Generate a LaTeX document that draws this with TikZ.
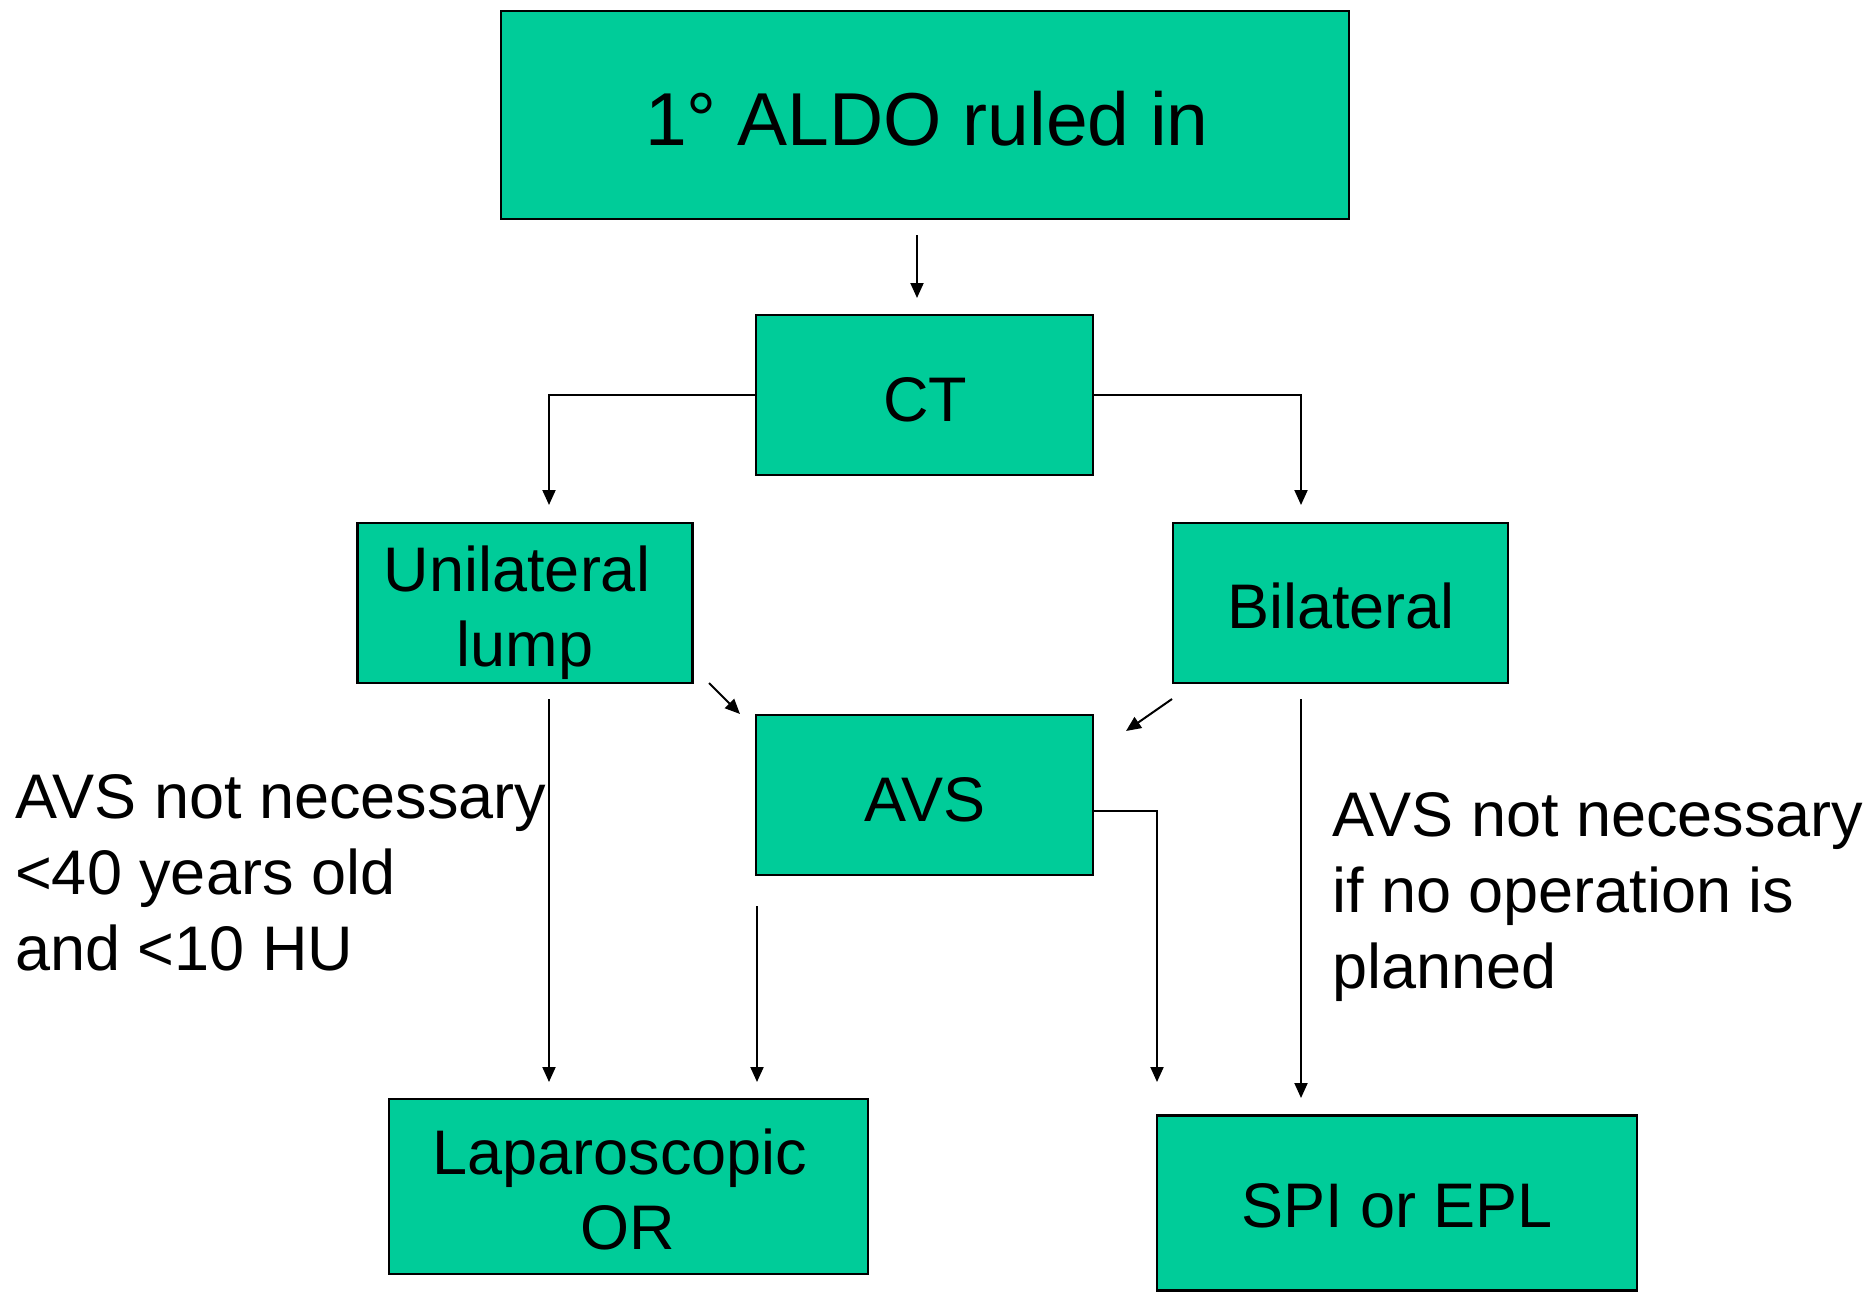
\documentclass[tikz,border=0pt]{standalone}
\usepackage{fontspec}
\setmainfont{Liberation Sans}
\usetikzlibrary{arrows.meta,calc}
\definecolor{boxgreen}{RGB}{0,204,153}
\tikzset{
  box/.style={draw=black, line width=2.5pt, fill=boxgreen, inner sep=0pt},
  lbl/.style={font=\fontsize{63}{76}\selectfont, inner sep=0pt, anchor=base},
  note/.style={font=\fontsize{63}{76}\selectfont, inner sep=0pt, anchor=base west, align=left},
  arr/.style={line width=2pt, -{Triangle[length=15pt,width=13pt]}},
  ln/.style={line width=2pt}
}
\begin{document}
\begin{tikzpicture}[x=1pt,y=-1pt]
\useasboundingbox (0,0) rectangle (1865,1296);
% boxes
\node[box, minimum width=848pt, minimum height=208pt] (top) at (925,115) {};
\node[box, minimum width=337pt, minimum height=160pt] (ct) at (924.5,395) {};
\node[box, minimum width=335pt, minimum height=160pt] (uni) at (525,603) {};
\node[box, minimum width=335pt, minimum height=160pt] (bil) at (1340.5,603) {};
\node[box, minimum width=337pt, minimum height=160pt] (avs) at (924.5,795) {};
\node[box, minimum width=479pt, minimum height=175pt] (lap) at (628.5,1186.5) {};
\node[box, minimum width=480pt, minimum height=175pt] (spi) at (1397,1203) {};
% box texts
\node[lbl, font=\fontsize{75}{90}\selectfont] (ttop) at (927,145) {1° ALDO ruled in};
\node[lbl] (tct) at (925,421) {CT};
\node[lbl] (tuni1) at (517,591) {Unilateral};
\node[lbl] (tuni2) at (525,666) {lump};
\node[lbl] (tbil) at (1341,628) {Bilateral};
\node[lbl] (tavs) at (925,821) {AVS};
\node[lbl] (tlap1) at (620,1174) {Laparoscopic};
\node[lbl] (tlap2) at (628,1249) {OR};
\node[lbl] (tspi) at (1397,1227) {SPI or EPL};
% annotations (base anchor = baseline of last line)
\node[note] (nleft) at (15,970) {AVS not necessary\\<40 years old\\and <10 HU};
\node[note] (nright) at (1332,988) {AVS not necessary\\if no operation is\\planned};
% connector end points
\coordinate (a1s) at (917,235);
\coordinate (a1e) at (917,298);
\coordinate (uniIn) at (549,505);
\coordinate (bilIn) at (1301,505);
\coordinate (d1s) at (709,683);
\coordinate (d1e) at (740,714);
\coordinate (d2s) at (1172,699);
\coordinate (d2e) at (1126,731);
\coordinate (v1s) at (549,699);
\coordinate (v1e) at (549,1082);
\coordinate (v2s) at (757,906);
\coordinate (v2e) at (757,1082);
\coordinate (avsOut) at (1093,811);
\coordinate (v3e) at (1157,1082);
\coordinate (v4s) at (1301,699);
\coordinate (v4e) at (1301,1098);
% connectors
\draw[arr] (a1s) -- (a1e);
\draw[arr] (ct.west) -| (uniIn);
\draw[arr] (ct.east) -| (bilIn);
\draw[arr] (d1s) -- (d1e);
\draw[arr] (d2s) -- (d2e);
\draw[arr] (v1s) -- (v1e);
\draw[arr] (v2s) -- (v2e);
\draw[arr] (avsOut) -| (v3e);
\draw[arr] (v4s) -- (v4e);
\end{tikzpicture}
\end{document}
